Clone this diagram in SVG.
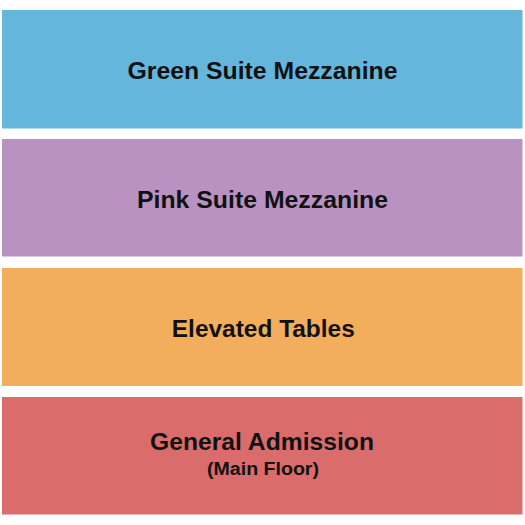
<svg xmlns="http://www.w3.org/2000/svg" width="525" height="525" viewBox="0 0 525 525">
<style>
.lbl{font-family:"Liberation Sans",Arial,sans-serif;font-weight:bold;font-size:23.5px;fill:#111;text-anchor:middle}
.sub{font-size:18px}
</style>
<rect width="525" height="525" fill="#ffffff"/>
<g id="green-suite">
<rect x="2" y="10" width="520.5" height="118.5" fill="#65b6dc"/>
<text class="lbl" x="262.5" y="78.5" textLength="270" lengthAdjust="spacingAndGlyphs">Green Suite Mezzanine</text>
</g>
<g id="pink-suite">
<rect x="2" y="139" width="520.5" height="117.5" fill="#b992c2"/>
<text class="lbl" x="262.5" y="207.5" textLength="251" lengthAdjust="spacingAndGlyphs">Pink Suite Mezzanine</text>
</g>
<g id="elevated-tables">
<rect x="2" y="268" width="520.5" height="118" fill="#f3ae5d"/>
<text class="lbl" x="263.3" y="336.7" textLength="183" lengthAdjust="spacingAndGlyphs">Elevated Tables</text>
</g>
<g id="general-admission">
<rect x="2" y="397" width="520.5" height="117.5" fill="#da6d6c"/>
<text class="lbl" x="262" y="450" textLength="224" lengthAdjust="spacingAndGlyphs">General Admission</text>
<text class="lbl sub" x="263" y="475" textLength="112" lengthAdjust="spacingAndGlyphs">(Main Floor)</text>
</g>
<g id="connectors"/>
</svg>
